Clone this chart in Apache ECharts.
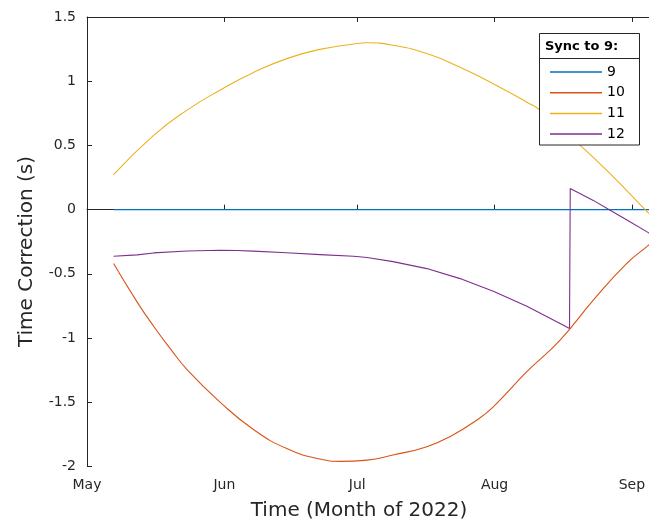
<!DOCTYPE html>
<html>
<head>
<meta charset="utf-8">
<script src="https://cdn.jsdelivr.net/npm/echarts@6/dist/echarts.min.js"></script>
<style>
html,body{margin:0;padding:0;background:#fff;}
#chart{width:649px;height:525px;}
</style>
</head>
<body>
<div id="chart"></div>
<script>
// ---- data ----
const seriesNames = ['9', '10', '11', '12'];
const monthTickLabels = ['May', 'Jun', 'Jul', 'Aug', 'Sep'];
const xTitle = 'Time (Month of 2022)';
const yTitle = 'Time Correction (s)';
const legendTitle = 'Sync to 9:';

const dates9 = ['2022-05-07', '2022-09-05 12:00'];
const sync9  = [0, 0];

const dates10 = ['2022-05-07','2022-05-12 07:00','2022-05-16 01:00','2022-05-19 19:00','2022-05-23 14:00','2022-05-31 02:00','2022-06-07 14:00','2022-06-15 02:00','2022-06-22 14:00','2022-06-27 05:00','2022-07-03 05:00','2022-07-09 02:00','2022-07-16 17:00','2022-07-22 17:00','2022-07-27 22:00','2022-07-31 17:00','2022-08-08 07:00','2022-08-15 19:00','2022-08-23 07:00','2022-08-30 19:00','2022-09-04 17:00','2022-09-05 12:00'];
const sync10  = [-0.420,-0.718,-0.908,-1.082,-1.245,-1.500,-1.712,-1.860,-1.942,-1.960,-1.950,-1.910,-1.846,-1.752,-1.640,-1.535,-1.262,-1.016,-0.705,-0.420,-0.278,-0.250];

const dates11 = ['2022-05-07','2022-05-16 01:00','2022-05-23 14:00','2022-05-31','2022-06-07 14:00','2022-06-15 02:00','2022-06-22 14:00','2022-06-30 05:00','2022-07-03 05:00','2022-07-09 02:00','2022-07-16 17:00','2022-07-24 05:00','2022-07-31 14:00','2022-08-08 07:00','2022-08-11 07:00','2022-08-20 07:00','2022-08-27 02:00','2022-09-04 17:00','2022-09-05 12:00'];
const sync11  = [0.272,0.578,0.775,0.930,1.068,1.176,1.248,1.290,1.299,1.280,1.215,1.109,0.982,0.837,0.774,0.502,0.280,-0.026,-0.055];

const dates12 = ['2022-05-07','2022-05-12 07:00','2022-05-16 01:00','2022-05-23 14:00','2022-05-31 02:00','2022-06-03 22:00','2022-06-07 14:00','2022-06-15 02:00','2022-06-22 14:00','2022-06-30 05:00','2022-07-03 05:00','2022-07-09 02:00','2022-07-16 17:00','2022-07-24 05:00','2022-07-31 17:00','2022-08-08 07:00','2022-08-15 19:00','2022-08-17 22:00','2022-08-18 02:00','2022-08-23 07:00','2022-08-27 02:00','2022-08-30 19:00','2022-09-04 17:00','2022-09-05 12:00'];
const sync12  = [-0.363,-0.352,-0.337,-0.322,-0.316,-0.318,-0.323,-0.336,-0.350,-0.363,-0.373,-0.405,-0.459,-0.537,-0.635,-0.752,-0.887,-0.925,0.165,0.072,-0.005,-0.078,-0.179,-0.200];

const xMin = '2022-05-01';
const xMax = '2022-09-04 20:40';

const colors = ['#0072BD', '#D95319', '#EDB120', '#7E2F8E'];
const axisColor = '#262626';
const font = '"DejaVu Sans", Helvetica, Arial, sans-serif';

function pairs(xs, ys) { return xs.map((x, i) => [x, ys[i]]); }
const seriesData = [pairs(dates9, sync9), pairs(dates10, sync10), pairs(dates11, sync11), pairs(dates12, sync12)];

const chart = echarts.init(document.getElementById('chart'), null, {renderer: 'canvas'});
const timeAxisBase = {
  type: 'time', min: xMin, max: xMax, splitNumber: 5,
  minInterval: 28 * 86400000, maxInterval: 31 * 86400000,
  axisLine: {show: true, lineStyle: {color: axisColor, width: 1}},
  axisTick: {show: true, inside: true, length: 5, lineStyle: {color: axisColor}},
  splitLine: {show: false}, minorTick: {show: false}
};
chart.setOption({
  animation: false,
  color: colors,
  grid: {left: 87, right: 0, top: 17, bottom: 58.5, containLabel: false, outerBoundsMode: 'none'},
  xAxis: [
    Object.assign({}, timeAxisBase, {
      position: 'bottom',
      axisLabel: {show: true, fontSize: 14, color: axisColor, fontFamily: font, margin: 12,
        showMinLabel: true, showMaxLabel: false, hideOverlap: false,
        formatter: function (v) { return monthTickLabels[new Date(v).getMonth() - 4] || ''; }}
    }),
    Object.assign({}, timeAxisBase, {position: 'top', axisLabel: {show: false}})
  ],
  yAxis: {
    type: 'value', min: -2, max: 1.5, interval: 0.5,
    axisLine: {show: true, lineStyle: {color: axisColor, width: 1}},
    axisTick: {show: true, inside: true, length: 5, lineStyle: {color: axisColor}},
    axisLabel: {fontSize: 14, color: axisColor, fontFamily: font, margin: 11},
    splitLine: {show: false}
  },
  legend: {
    data: seriesNames,
    orient: 'vertical', left: 550, top: 65, z: 30,
    icon: 'rect', itemWidth: 52, itemHeight: 1.5, itemGap: 6.7, padding: 0,
    textStyle: {fontSize: 14, color: '#000', fontFamily: font, lineHeight: 14},
    selectedMode: false
  },
  graphic: [
    {type: 'text', z: 5, x: 359, y: 510.5,
      style: {text: xTitle, font: '20px ' + font, fill: axisColor, align: 'center', verticalAlign: 'middle'}},
    {type: 'text', z: 5, x: 27, y: 251.5, rotation: Math.PI / 2,
      style: {text: yTitle, font: '20px ' + font, fill: axisColor, align: 'center', verticalAlign: 'middle'}},
    {type: 'rect', z: 20, shape: {x: 539.5, y: 33.5, width: 100, height: 111.5},
      style: {fill: '#fff', stroke: axisColor, lineWidth: 1}},
    {type: 'line', z: 21, shape: {x1: 539.5, y1: 58.5, x2: 639.5, y2: 58.5},
      style: {stroke: axisColor, lineWidth: 1}},
    {type: 'text', z: 21, x: 545, y: 46.5,
      style: {text: legendTitle, font: 'bold 13px ' + font, fill: '#000', verticalAlign: 'middle'}}
  ],
  series: seriesNames.map((n, i) => ({
    name: n, type: 'line', data: seriesData[i], showSymbol: false, symbol: 'none',
    smooth: (i === 1 || i === 2) ? 0.5 : false,
    lineStyle: {width: 1.1, color: colors[i]}, itemStyle: {color: colors[i]},
    emphasis: {disabled: true}
  }))
});
</script>
</body>
</html>
